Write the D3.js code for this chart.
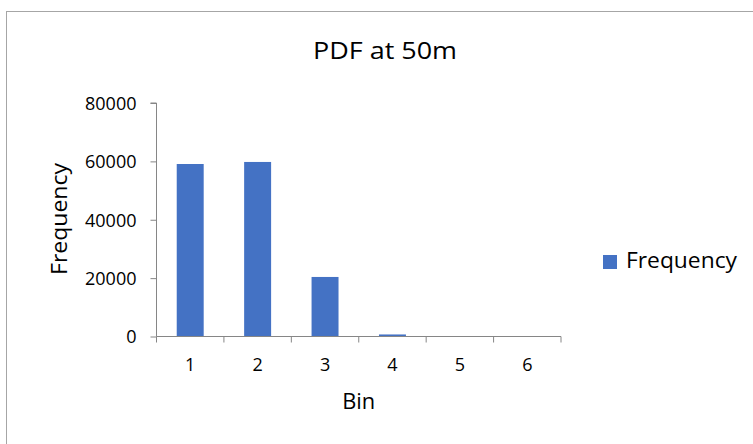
<!DOCTYPE html>
<html><head><meta charset="utf-8">
<script src="https://cdn.jsdelivr.net/npm/d3@7"></script>
<style>body{margin:0;background:#fff;} svg{display:block;}</style>
</head><body>
<svg id="c" width="753" height="444"></svg>
<script>
const categories = ["1","2","3","4","5","6"];
const values = [59100, 59800, 20400, 700, 20, 5];
const yTicks = [0, 20000, 40000, 60000, 80000];
const title = "PDF at 50m";
const xTitle = "Bin";
const yTitle = "Frequency";
const seriesName = "Frequency";

(function(){
const svg = d3.select("#c");
const font = "'Open Sans', 'Noto Sans', sans-serif";
const axisColor = "#868686";
const barColor = "#4472C4";

svg.append("rect").attr("x",6.5).attr("y",11.5).attr("width",800).attr("height",500)
  .attr("fill","#fff").attr("stroke","#a6a6a6").attr("stroke-width",1);

const pL = 156.5, pR = 561, pT = 103, pB = 336.5;
const x = d3.scaleBand().domain(categories).range([pL, pR]).paddingInner(0.6).paddingOuter(0.3);
const y = d3.scaleLinear().domain([0, 80000]).range([pB, pT]);

svg.selectAll(".bar").data(values).join("rect")
  .attr("x",(d,i)=>x(categories[i])).attr("width",x.bandwidth())
  .attr("y",d=>y(d)).attr("height",d=>pB - y(d)).attr("fill",barColor);

const ya = svg.append("g").attr("transform",`translate(${pL},0)`)
  .call(d3.axisLeft(y).tickValues(yTicks).tickSize(6).tickPadding(14).tickFormat(d3.format("d")));
ya.select(".domain").attr("stroke",axisColor).attr("d",`M-6,${y(80000)}H0V${pB}`);
ya.selectAll(".tick line").attr("stroke",axisColor);
ya.selectAll("text").attr("font-family",font).attr("font-size",18).attr("fill","#000").attr("dy","0.36em");

const xa = svg.append("g").attr("transform",`translate(0,${pB})`);
xa.append("line").attr("x1",pL).attr("x2",pR).attr("y1",0).attr("y2",0).attr("stroke",axisColor);
const edges = d3.range(categories.length+1).map(i=>pL + i*(pR-pL)/categories.length);
xa.selectAll(".tk").data(edges).join("line").attr("x1",d=>d).attr("x2",d=>d)
  .attr("y1",0).attr("y2",6).attr("stroke",axisColor);
xa.selectAll(".lbl").data(categories).join("text")
  .attr("x",d=>x(d)+x.bandwidth()/2).attr("y",371-pB).attr("text-anchor","middle")
  .attr("font-family",font).attr("font-size",18).attr("fill","#000").text(d=>d);

svg.append("text").attr("x",385).attr("y",59).attr("text-anchor","middle")
  .attr("font-family",font).attr("font-size",23).attr("fill","#000")
  .attr("textLength",144).attr("lengthAdjust","spacingAndGlyphs").text(title);
svg.append("text").attr("x",(pL+pR)/2).attr("y",409).attr("text-anchor","middle")
  .attr("font-family",font).attr("font-size",22).attr("fill","#000")
  .attr("textLength",33).attr("lengthAdjust","spacingAndGlyphs").text(xTitle);
svg.append("text").attr("transform",`translate(67,219) rotate(-90)`).attr("text-anchor","middle")
  .attr("font-family",font).attr("font-size",21).attr("fill","#000")
  .attr("textLength",112).attr("lengthAdjust","spacingAndGlyphs").text(yTitle);

svg.append("rect").attr("x",603).attr("y",255).attr("width",14).attr("height",14).attr("fill",barColor);
svg.append("text").attr("x",626).attr("y",268).attr("font-family",font).attr("font-size",21).attr("fill","#000")
  .attr("textLength",111).attr("lengthAdjust","spacingAndGlyphs").text(seriesName);
})();
</script>
</body></html>
